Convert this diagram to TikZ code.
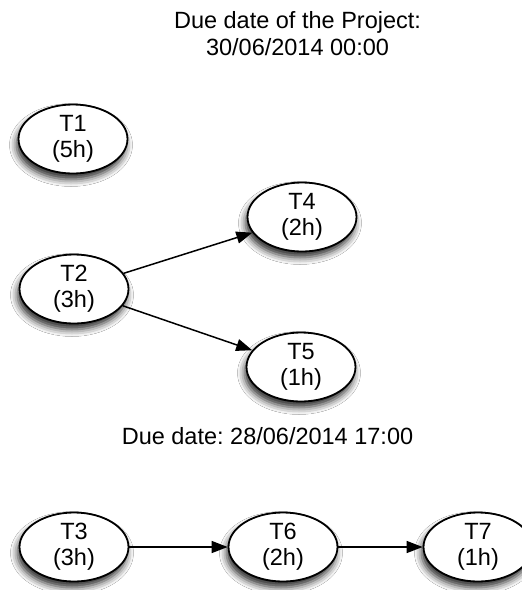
\documentclass[tikz,border=0pt]{standalone}
\usepackage{fontspec}
\setmainfont{Liberation Sans}
\usetikzlibrary{shapes.geometric,arrows.meta,shadows.blur}
\frenchspacing
\begin{document}
\begin{tikzpicture}[x=1pt,y=-1pt,
  task/.style={ellipse, draw=black, line width=1.8pt, fill=white,
    minimum width=109pt, minimum height=69pt, inner sep=0pt,
    align=center, font=\fontsize{23.5}{26}\selectfont,
    blur shadow={shadow xshift=-2pt, shadow yshift=-6pt,
      shadow blur radius=7pt, shadow opacity=85}},
  dep/.style={line width=1.5pt, -{Triangle[length=16pt,width=12pt]}},
  note/.style={align=center, font=\fontsize{23.5}{27}\selectfont}]
  \useasboundingbox (0,0) rectangle (522,590);
  \fill[white] (0,0) rectangle (522,590);

  % project deadline
  \node[note] (proj) at (297.5,34) {Due date of the Project:\\30/06/2014 00:00};

  % tasks
  \node[task] (t1) at (73,139) {T1\\(5h)};
  \node[task] (t2) at (74,289) {T2\\(3h)};
  \node[task] (t4) at (302,217) {T4\\(2h)};
  \node[task] (t5) at (301,367) {T5\\(1h)};

  \node[note] (due) at (267.5,436) {Due date: 28/06/2014 17:00};

  \node[task] (t3) at (74,547) {T3\\(3h)};
  \node[task] (t6) at (283,547) {T6\\(2h)};
  \node[task] (t7) at (478,547) {T7\\(1h)};

  % dependencies
  \draw[dep] (t2) -- (t4);
  \draw[dep] (t2) -- (t5);
  \draw[dep] (t3) -- (t6);
  \draw[dep] (t6) -- (t7);
\end{tikzpicture}
\end{document}
